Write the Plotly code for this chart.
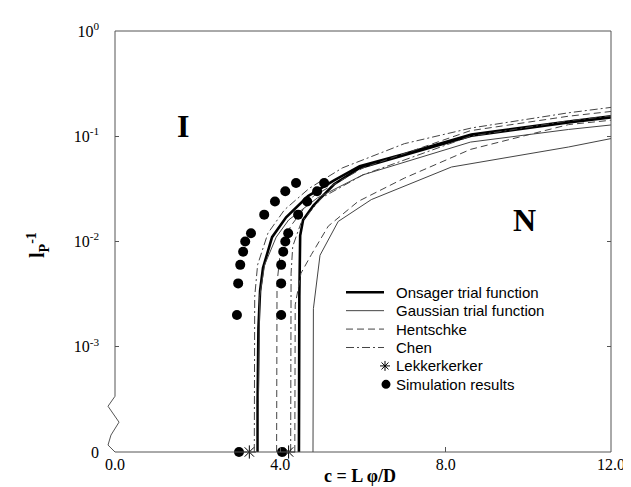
import plotly.graph_objects as go

# ---------------- data ----------------
# Onsager trial function (isotropic / nematic branches)
ons_iso_x = [3.45, 3.45, 3.47, 3.51, 3.58, 3.80, 4.14, 4.67, 5.30, 5.92, 7.00, 8.62, 10.97, 12.0]
ons_iso_y = [0, 3e-4, 1.5e-3, 3.4e-3, 5.6e-3, 0.011, 0.017, 0.027, 0.038, 0.052, 0.068, 0.104, 0.138, 0.155]
ons_nem_x = [4.45, 4.45, 4.46, 4.48, 4.55, 4.80, 5.30, 5.92, 7.00, 8.62, 10.97, 12.0]
ons_nem_y = [0, 3e-4, 3e-3, 0.0114, 0.016, 0.022, 0.035, 0.050, 0.066, 0.101, 0.135, 0.151]

# Gaussian trial function
gau_iso_x = [3.47, 3.47, 3.50, 3.62, 3.90, 4.20, 4.90, 6.00, 8.60, 10.97, 12.0]
gau_iso_y = [0, 3e-4, 3e-3, 6e-3, 0.011, 0.016, 0.026, 0.043, 0.088, 0.116, 0.128]
gau_nem_x = [4.79, 4.79, 4.80, 4.96, 5.40, 6.20, 8.14, 10.97, 12.0]
gau_nem_y = [0, 3e-4, 2.3e-3, 7.4e-3, 0.0155, 0.025, 0.051, 0.079, 0.095]

# Hentschke
hen_iso_x = [3.91, 3.91, 3.92, 4.00, 4.25, 4.80, 6.00, 8.60, 10.97, 12.0]
hen_iso_y = [0, 3e-4, 4e-3, 8e-3, 0.014, 0.027, 0.050, 0.113, 0.155, 0.172]
hen_nem_x = [4.35, 4.35, 4.36, 4.50, 4.75, 5.16, 5.88, 7.00, 8.60, 10.97, 12.0]
hen_nem_y = [0, 3e-4, 2.5e-3, 5e-3, 7.5e-3, 0.014, 0.024, 0.040, 0.075, 0.129, 0.142]

# Chen
che_iso_x = [3.37, 3.37, 3.38, 3.45, 3.70, 4.10, 4.70, 5.50, 7.00, 8.63, 10.97, 12.0]
che_iso_y = [0, 3e-4, 3e-3, 6e-3, 0.012, 0.020, 0.032, 0.050, 0.085, 0.120, 0.167, 0.188]
che_nem_x = [4.25, 4.25, 4.26, 4.30, 4.50, 5.00, 6.00, 8.60, 10.97, 12.0]
che_nem_y = [0, 3e-4, 5e-3, 9e-3, 0.015, 0.026, 0.043, 0.100, 0.140, 0.156]

# Lekkerkerker (rigid rod limit)
lek_x = [3.25, 4.20]
lek_y = [0, 0]

# Simulation results
sim_x = [3.0, 2.95, 2.98, 3.03, 3.10, 3.15, 3.29, 3.61, 3.87, 4.12, 4.38,
         4.04, 4.02, 4.02, 4.02, 4.07, 4.12, 4.19, 4.43, 4.65, 4.89, 5.06]
sim_y = [0, 0.002, 0.004, 0.006, 0.008, 0.010, 0.012, 0.018, 0.024, 0.030, 0.036,
         0, 0.002, 0.004, 0.006, 0.008, 0.010, 0.012, 0.018, 0.024, 0.030, 0.036]

x_ticks = [0, 4, 8, 12]
x_tick_labels = ["0.0", "4.0", "8.0", "12.0"]
y_ticks = [1e-4, 1e-3, 1e-2, 1e-1, 1]
y_tick_labels = ["0", "10<sup>-3</sup>", "10<sup>-2</sup>", "10<sup>-1</sup>", "10<sup>0</sup>"]

legend_labels = ["Onsager trial function", "Gaussian trial function", "Hentschke",
                 "Chen", "Lekkerkerker", "Simulation results"]

ZERO_POS = 1e-4  # position of the broken-axis "0"


def ymap(vals):
    return [v if v > 0 else ZERO_POS for v in vals]


def join(x1, y1, x2, y2):
    return x1 + [None] + x2, ymap(y1) + [None] + ymap(y2)


fig = go.Figure()

serif = "Liberation Serif, Times New Roman, serif"
sans = "Liberation Sans, Arial, sans-serif"

styles = [
    dict(color="black", width=2.6),
    dict(color="#444", width=1),
    dict(color="#444", width=1, dash="7px,4px"),
    dict(color="#444", width=1, dash="8px,3px,2px,3px"),
]

series = [
    (ons_iso_x, ons_iso_y, ons_nem_x, ons_nem_y),
    (gau_iso_x, gau_iso_y, gau_nem_x, gau_nem_y),
    (hen_iso_x, hen_iso_y, hen_nem_x, hen_nem_y),
    (che_iso_x, che_iso_y, che_nem_x, che_nem_y),
]
for (a, b, c, d), st, name in zip(series, styles, legend_labels):
    x, y = join(a, b, c, d)
    fig.add_trace(go.Scatter(x=x, y=y, mode="lines", name=name, line=st, showlegend=False))

fig.add_trace(go.Scatter(x=lek_x, y=ymap(lek_y), mode="markers", name=legend_labels[4],
                         cliponaxis=False, showlegend=False,
                         marker=dict(symbol="asterisk-open", size=11, color="black",
                                     line=dict(color="black", width=1))))
fig.add_trace(go.Scatter(x=sim_x, y=ymap(sim_y), mode="markers", name=legend_labels[5],
                         cliponaxis=False, showlegend=False,
                         marker=dict(symbol="circle", size=10, color="black")))
# dummy trace to show right-axis ticks
fig.add_trace(go.Scatter(x=[None], y=[None], yaxis="y2", showlegend=False, hoverinfo="skip"))

L, R, T, B = 107, 28, 21, 43
W, H = 631, 487
pw, ph = W - L - R, H - T - B


def px(xp):
    return (xp - L) / pw


def py(yp):
    return 1 - (yp - T) / ph


axis_col = "#555"
shapes = [
    dict(type="line", xref="paper", yref="paper", x0=0, x1=1, y0=0, y1=0,
         line=dict(color=axis_col, width=1)),
    dict(type="line", xref="paper", yref="paper", x0=0, x1=1, y0=1, y1=1,
         line=dict(color=axis_col, width=1)),
    dict(type="line", xref="paper", yref="paper", x0=1, x1=1, y0=0, y1=1,
         line=dict(color=axis_col, width=1)),
    dict(type="line", xref="paper", yref="paper", x0=0, x1=0, y0=py(388), y1=1,
         line=dict(color=axis_col, width=1)),
    dict(type="path", xref="paper", yref="paper",
         path="M {:.4f},{:.4f} L {:.4f},{:.4f} L {:.4f},{:.4f} L {:.4f},{:.4f} L {:.4f},{:.4f} L {:.4f},{:.4f}".format(
             px(107), py(388), px(100), py(398), px(111), py(414), px(103), py(427),
             px(100), py(437), px(107), py(444)),
         line=dict(color=axis_col, width=1)),
]

annotations = [
    dict(text="<b>c = L φ/D</b>", xref="paper", yref="paper", x=px(352), y=py(468),
         xanchor="center", yanchor="middle",
         showarrow=False, font=dict(family=serif, size=18, color="black")),
    dict(text="<b>l<sub>P</sub><sup>-1</sup></b>", xref="paper", yref="paper",
         x=px(30), y=py(236), textangle=-90, xanchor="center", yanchor="middle",
         showarrow=False, font=dict(family=serif, size=20, color="black")),
    dict(text="<b>I</b>", x=1.65, y=-0.9, xref="x", yref="y", showarrow=False,
         xanchor="center", yanchor="middle",
         font=dict(family=serif, size=32, color="black")),
    dict(text="<b>N</b>", x=9.9, y=-1.8, xref="x", yref="y", showarrow=False,
         xanchor="center", yanchor="middle",
         font=dict(family=serif, size=32, color="black")),
]

# legend (drawn manually to match the row spacing of the original)
rows = [283.5, 302, 320.5, 339, 357.5, 376]
for i, lab in enumerate(legend_labels):
    annotations.append(dict(text=lab, xref="paper", yref="paper", x=px(386), y=py(rows[i]),
                            xanchor="left", yanchor="middle", showarrow=False,
                            font=dict(family=sans, size=15, color="black")))
for i, st in enumerate(styles):
    shapes.append(dict(type="line", xref="paper", yref="paper",
                       x0=px(338), x1=px(376), y0=py(rows[i]), y1=py(rows[i]),
                       line=st))
# legend marker samples
cx, cy = 378, rows[5]
shapes.append(dict(type="circle", xref="paper", yref="paper",
                   x0=px(cx - 4.5), x1=px(cx + 4.5), y0=py(cy + 4.5), y1=py(cy - 4.5),
                   fillcolor="black", line=dict(color="black", width=0)))
ax, ay, r = 377, rows[4], 5
for dx, dy in [(r, 0), (0, r), (0.7 * r, 0.7 * r), (0.7 * r, -0.7 * r)]:
    shapes.append(dict(type="line", xref="paper", yref="paper",
                       x0=px(ax - dx), x1=px(ax + dx), y0=py(ay - dy), y1=py(ay + dy),
                       line=dict(color="black", width=1)))

fig.update_layout(
    width=W, height=H,
    margin=dict(l=L, r=R, t=T, b=B, pad=0),
    paper_bgcolor="white", plot_bgcolor="white",
    showlegend=False,
    shapes=shapes,
    annotations=annotations,
    xaxis=dict(range=[0, 12], tickvals=x_ticks, ticktext=x_tick_labels,
               ticks="inside", ticklen=5, tickcolor=axis_col,
               showline=False, showgrid=False, zeroline=False, ticklabelstandoff=1,
               tickfont=dict(family=serif, size=16, color="black")),
    yaxis=dict(type="log", range=[-4, 0], tickvals=y_ticks, ticktext=y_tick_labels,
               ticks="inside", ticklen=4, tickcolor=axis_col,
               showline=False, showgrid=False, zeroline=False, ticklabelstandoff=15,
               tickfont=dict(family=serif, size=16, color="black")),
    yaxis2=dict(type="log", range=[-4, 0], overlaying="y", side="right",
                tickvals=y_ticks, ticks="inside", ticklen=4, tickcolor=axis_col,
                showticklabels=False, showgrid=False, zeroline=False),
)

fig.write_html("out.html")
